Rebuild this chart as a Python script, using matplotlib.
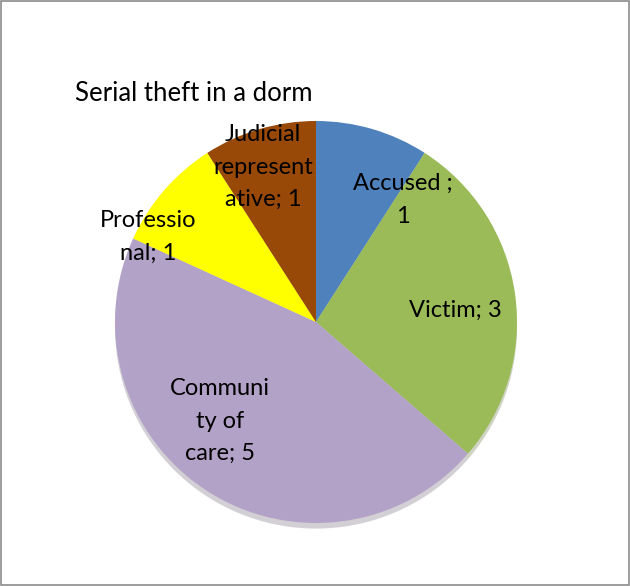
import matplotlib.pyplot as plt

# Pie data
labels = ["Accused ;\n1", "Victim; 3", "Communi\nty of\ncare; 5",
          "Professio\nnal; 1", "Judicial\nrepresent\native; 1"]
values = [1, 3, 5, 1, 1]
colors = ["#4F81BD", "#9BBB59", "#B3A2C7", "#FFFF00", "#984807"]

# label positions in data coords (pie radius = 1)
label_pos = [(0.433, 0.607), (0.692, 0.06), (-0.478, -0.493), (-0.836, 0.423), (-0.264, 0.771)]

plt.rcParams['font.family'] = ['Lato', 'DejaVu Sans']

fig = plt.figure(figsize=(6.3, 5.86), dpi=100)
fig.patch.set_facecolor("white")

cx, cy, r = 316, 586 - 322, 201
ax = fig.add_axes([(cx - r) / 630, (cy - r) / 586, 2 * r / 630, 2 * r / 586])
ax.pie(values, colors=colors, startangle=90, counterclock=False, radius=1,
       wedgeprops=dict(linewidth=0),
       shadow=dict(ox=0.0, oy=-0.02, shade=0.4, alpha=0.3))
ax.set_xlim(-1, 1)
ax.set_ylim(-1, 1)
ax.set_aspect("equal")
ax.axis("off")

for lab, (x, y) in zip(labels, label_pos):
    ax.text(x, y, lab, ha="center", va="center", fontsize=17,
            linespacing=1.68, color="black", clip_on=False)

fig.text(75 / 630, 1 - 94 / 586, "Serial theft in a dorm", ha="left", va="center",
         fontsize=18.5, color="black")

# outer border
border = plt.Rectangle((0.0015, 0.0015), 0.997, 0.997, transform=fig.transFigure,
                       fill=False, edgecolor="#8C8C8C", linewidth=1.2)
fig.patches.append(border)

fig.savefig("out.png", dpi=100)
